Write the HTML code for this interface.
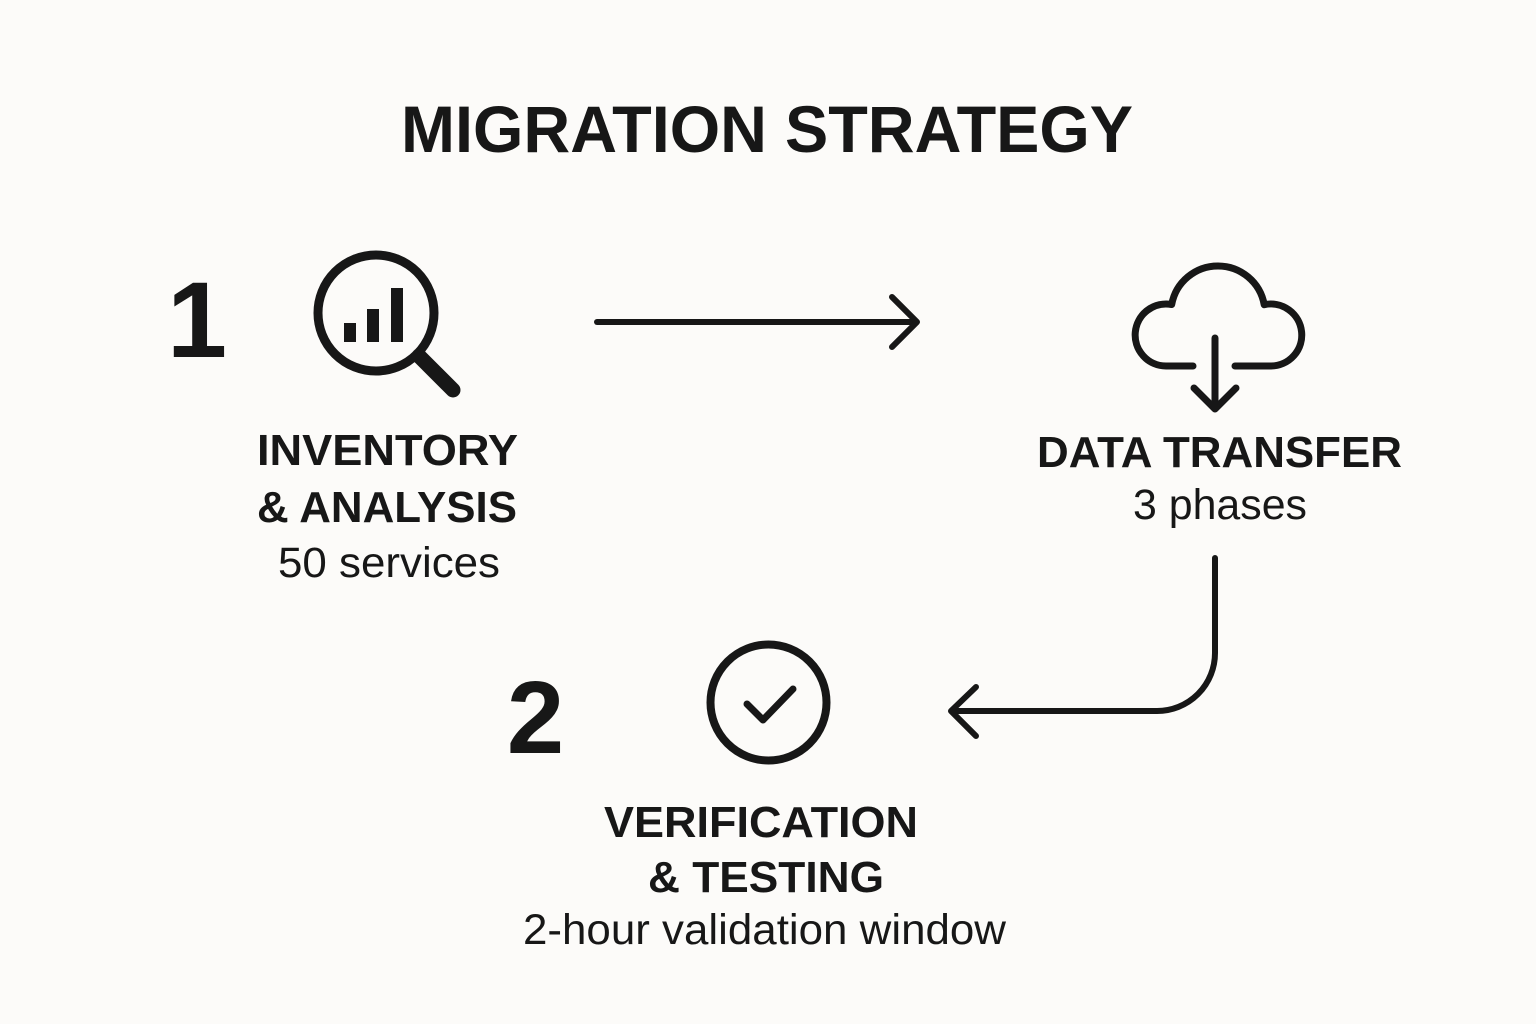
<!DOCTYPE html>
<html>
<head>
<meta charset="utf-8">
<style>
  html, body { margin: 0; padding: 0; background: #fcfbf9; }
  body { width: 1536px; height: 1024px; overflow: hidden; }
  svg { display: block; }
  .b { font-family: "Liberation Sans", "DejaVu Sans", sans-serif; font-weight: 700; fill: #171717; }
  .r { font-family: "Liberation Sans", "DejaVu Sans", sans-serif; font-weight: 400; fill: #171717; }
</style>
</head>
<body>
<svg width="1536" height="1024" viewBox="0 0 1536 1024" xmlns="http://www.w3.org/2000/svg">
  <rect x="0" y="0" width="1536" height="1024" fill="#fcfbf9"/>

  <!-- Title -->
  <text class="b" x="401" y="152" font-size="66" textLength="732" lengthAdjust="spacingAndGlyphs">MIGRATION STRATEGY</text>

  <!-- Step 1 number -->
  <text class="b" x="197" y="357" font-size="108" text-anchor="middle">1</text>

  <!-- Magnifier icon -->
  <g stroke="#171717" fill="none">
    <circle cx="376" cy="313" r="58" stroke-width="9"/>
    <line x1="419" y1="356" x2="453" y2="390" stroke-width="15" stroke-linecap="round"/>
  </g>
  <g fill="#171717">
    <rect x="344" y="323" width="12" height="19"/>
    <rect x="367" y="309" width="12" height="33"/>
    <rect x="391" y="288" width="12" height="54"/>
  </g>

  <!-- Inventory labels -->
  <text class="b" x="257" y="465" font-size="44" textLength="261" lengthAdjust="spacingAndGlyphs">INVENTORY</text>
  <text class="b" x="257" y="522" font-size="44" textLength="260" lengthAdjust="spacingAndGlyphs">&amp; ANALYSIS</text>
  <text class="r" x="278" y="577" font-size="43" textLength="222" lengthAdjust="spacingAndGlyphs">50 services</text>

  <!-- Arrow 1 -->
  <g stroke="#171717" stroke-width="6" fill="none" stroke-linecap="round" stroke-linejoin="round">
    <line x1="597" y1="322" x2="916" y2="322"/>
    <polyline points="892,297 917,322 892,347"/>
  </g>

  <!-- Cloud download icon -->
  <g stroke="#171717" stroke-width="7" fill="none" stroke-linecap="round" stroke-linejoin="round">
    <path d="M1193 366 H1166 A31 31 0 1 1 1171.7 304.5 A47 47 0 0 1 1264.2 304.7 A31 31 0 1 1 1271 366 H1235"/>
    <line x1="1215" y1="338" x2="1215" y2="408"/>
    <polyline points="1194,388 1215,409 1236,388"/>
  </g>

  <!-- Data transfer labels -->
  <text class="b" x="1037" y="467" font-size="44" textLength="365" lengthAdjust="spacingAndGlyphs">DATA TRANSFER</text>
  <text class="r" x="1133" y="519" font-size="43" textLength="174" lengthAdjust="spacingAndGlyphs">3 phases</text>

  <!-- Arrow 2 (curved) -->
  <g stroke="#171717" stroke-width="6" fill="none" stroke-linecap="round" stroke-linejoin="round">
    <path d="M1215 558 V653 A58 58 0 0 1 1157 711 H952"/>
    <polyline points="976,687 951,711 976,736"/>
  </g>

  <!-- Step 2 number -->
  <text class="b" x="535.5" y="753" font-size="103" text-anchor="middle">2</text>

  <!-- Check circle icon -->
  <g stroke="#171717" fill="none" stroke-linecap="round" stroke-linejoin="round">
    <circle cx="768.5" cy="702.5" r="58" stroke-width="8"/>
    <polyline points="747,704 763,720 793,689" stroke-width="7"/>
  </g>

  <!-- Verification labels -->
  <text class="b" x="604" y="837" font-size="44" textLength="314" lengthAdjust="spacingAndGlyphs">VERIFICATION</text>
  <text class="b" x="648" y="892" font-size="44" textLength="236" lengthAdjust="spacingAndGlyphs">&amp; TESTING</text>
  <text class="r" x="523" y="944" font-size="43" textLength="483" lengthAdjust="spacingAndGlyphs">2-hour validation window</text>
</svg>
</body>
</html>
